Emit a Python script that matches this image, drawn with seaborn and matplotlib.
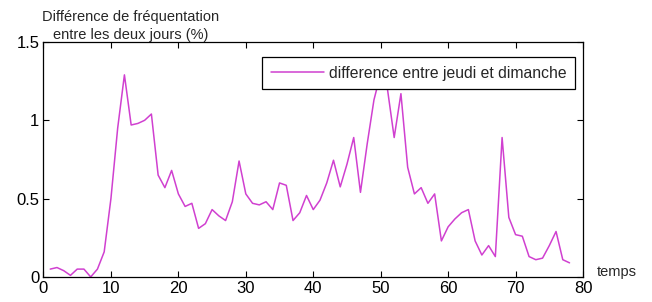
import numpy as np
import pandas as pd
import seaborn as sns
import matplotlib.pyplot as plt

# donnees
temps = list(range(1, 79))
difference = [0.05, 0.06, 0.04, 0.01, 0.05, 0.05, 0.00, 0.05, 0.16, 0.50,
              0.95, 1.29, 0.97, 0.98, 1.00, 1.04, 0.65, 0.57, 0.68, 0.53,
              0.45, 0.47, 0.31, 0.34, 0.43, 0.39, 0.36, 0.48, 0.74, 0.53,
              0.47, 0.46, 0.48, 0.43, 0.60, 0.585, 0.36, 0.41, 0.52, 0.43,
              0.49, 0.60, 0.745, 0.575, 0.72, 0.89, 0.54, 0.85, 1.13, 1.30,
              1.20, 0.89, 1.17, 0.70, 0.53, 0.57, 0.47, 0.53, 0.23, 0.32,
              0.37, 0.41, 0.43, 0.23, 0.14, 0.20, 0.13, 0.89, 0.38, 0.27,
              0.26, 0.13, 0.11, 0.12, 0.20, 0.29, 0.11, 0.09]
xticks = [0, 10, 20, 30, 40, 50, 60, 70, 80]
yticks = [0, 0.5, 1, 1.5]
yticklabels = ['0', '0.5', '1', '1.5']

df = pd.DataFrame({'temps': temps, 'difference': difference})

sns.set_style('ticks')
plt.rcParams['font.family'] = ['Liberation Sans', 'DejaVu Sans']

fig = plt.figure(figsize=(6.52, 3.02), dpi=100)
ax = fig.add_axes([0.0667, 0.083, 0.8275, 0.778])

sns.lineplot(data=df, x='temps', y='difference', color='#d040d0', linewidth=1.1,
             label='difference entre jeudi et dimanche', ax=ax)

ax.set_xlim(0, 80)
ax.set_ylim(0, 1.5)
ax.set_xticks(xticks)
ax.set_yticks(yticks)
ax.set_yticklabels(yticklabels)
ax.set_xlabel('')
ax.set_ylabel('')
ax.tick_params(direction='in', length=4, width=0.8, top=True, right=True,
               labelsize=12, colors='black', pad=3)
for s in ax.spines.values():
    s.set_visible(True)
    s.set_linewidth(0.9)
    s.set_color('black')

leg = ax.legend(loc='upper right', bbox_to_anchor=(0.985, 0.936), borderaxespad=0,
                frameon=True, fancybox=False, framealpha=1, edgecolor='black',
                fontsize=11.3, handlelength=3.4, handletextpad=0.3, borderpad=0.55)
leg.get_frame().set_linewidth(0.9)

fig.text(0.20, 0.943, 'Différence de fréquentation', ha='center', va='center',
         fontsize=10.5)
fig.text(0.20, 0.883, 'entre les deux jours (%)', ha='center', va='center',
         fontsize=10.5)
fig.text(0.915, 0.10, 'temps', ha='left', va='center', fontsize=10.5)

fig.savefig('out.png', dpi=100)
